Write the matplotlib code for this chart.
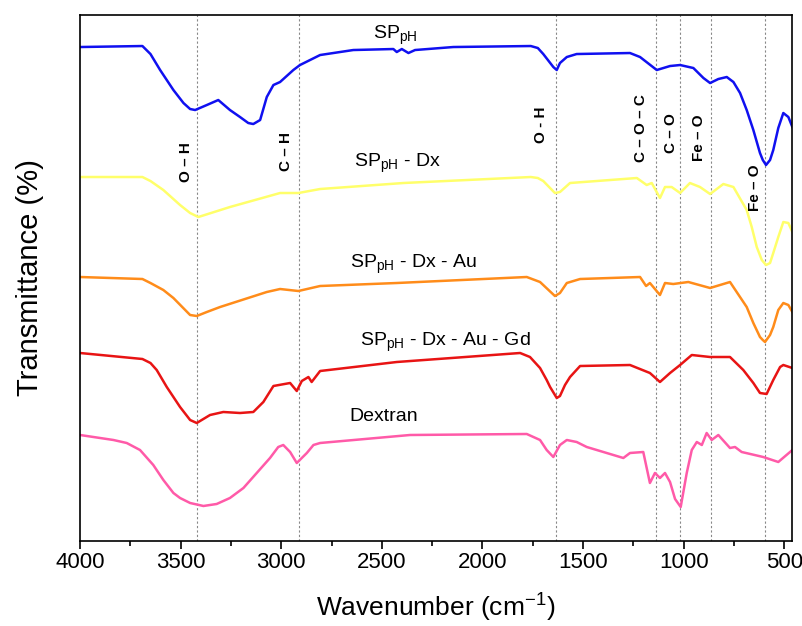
import numpy as np
import matplotlib
matplotlib.use('Agg')
import matplotlib.pyplot as plt
from matplotlib.ticker import MultipleLocator

plt.rcParams['font.family'] = ['Liberation Sans', 'DejaVu Sans']

# FTIR spectra, offset transmittance (arbitrary units)
sp_wn = [4000, 3690, 3650, 3602, 3536, 3486, 3453, 3428, 3370, 3313, 3255, 3205, 3164, 3139,
         3105, 3072, 3039, 3006, 2940, 2907, 2807, 2642, 2443, 2426, 2401, 2368, 2335,
         2145, 1760, 1725, 1698, 1648, 1631, 1615, 1581, 1532, 1267, 1217, 1134, 1068, 1018,
         952, 902, 869, 828, 786, 753, 720, 687, 654, 621, 607, 591, 571, 555, 530,
         505, 480, 460]
sp_t = [494, 495, 487, 471, 451, 438, 432, 431, 436, 441, 431, 424, 418, 417,
        421, 444, 456, 459, 471, 476, 486, 491, 492, 489, 492, 488, 491,
        494, 495, 493, 487, 474, 471, 478, 484, 487, 488, 484, 471, 475, 476,
        473, 463, 458, 462, 464, 459, 448, 431, 411, 388, 381, 376, 381, 391, 413,
        428, 424, 414]

dx_wn = [4000, 3690, 3650, 3586, 3503, 3453, 3412, 3255, 3006, 2915, 2807, 2393, 1760,
         1725, 1698, 1640, 1615, 1565, 1233, 1184, 1159, 1118, 1093, 1060, 1018, 969,
         919, 869, 803, 753, 687, 662, 637, 612, 591, 571, 555, 530, 505, 480, 460]
dx_t = [364, 364, 360, 351, 336, 328, 324, 334, 348, 348, 352, 358, 364,
        363, 360, 348, 349, 358, 363, 356, 358, 343, 354, 354, 348, 358,
        354, 347, 357, 354, 331, 314, 294, 281, 276, 278, 288, 304, 319, 318, 309]

au_wn = [4000, 3690, 3650, 3586, 3536, 3453, 3420, 3370, 3304, 3072, 3006, 2915, 2807,
         2426, 1780, 1714, 1640, 1615, 1581, 1515, 1217, 1187, 1168, 1118, 1093, 1052,
         977, 869, 770, 687, 654, 621, 607, 596, 571, 555, 530, 505, 480, 460]
au_t = [264, 262, 258, 251, 243, 226, 225, 229, 234, 249, 252, 250, 255,
        258, 264, 259, 245, 248, 258, 262, 264, 255, 258, 246, 258, 257,
        259, 253, 259, 234, 218, 204, 201, 199, 206, 214, 231, 238, 236, 229]

gd_wn = [4000, 3690, 3650, 3619, 3569, 3503, 3453, 3420, 3354, 3288, 3205, 3139, 3089,
         3039, 2956, 2923, 2898, 2865, 2849, 2807, 2426, 1813, 1764, 1714, 1681, 1664,
         1631, 1615, 1590, 1565, 1515, 1267, 1168, 1118, 1068, 1018, 960, 869, 770, 704,
         654, 621, 588, 555, 521, 505, 460]
gd_t = [188, 182, 178, 171, 154, 134, 121, 118, 126, 129, 128, 129, 139,
        155, 158, 150, 160, 164, 159, 170, 179, 188, 184, 173, 161, 154,
        143, 145, 156, 164, 175, 176, 168, 159, 168, 176, 186, 184, 184, 171,
        158, 148, 147, 161, 174, 176, 173]

dex_wn = [4000, 3834, 3768, 3702, 3636, 3586, 3536, 3503, 3453, 3387, 3321, 3255, 3188,
          3122, 3056, 3015, 2990, 2956, 2923, 2873, 2840, 2807, 2360, 1780, 1714, 1681,
          1648, 1615, 1581, 1532, 1482, 1300, 1267, 1201, 1168, 1143, 1118, 1093, 1068,
          1043, 1015, 985, 960, 935, 910, 886, 861, 828, 770, 745, 712, 605, 530, 460]
dex_t = [106, 101, 98, 91, 76, 61, 48, 43, 38, 35, 37, 43, 53,
         68, 83, 94, 96, 89, 78, 88, 96, 98, 106, 107, 101, 91,
         84, 96, 101, 99, 94, 83, 88, 89, 58, 68, 63, 68, 59,
         42, 34, 68, 91, 99, 96, 108, 101, 106, 93, 94, 89, 84, 79, 91]

band_wn = [3420, 2912, 1635, 1139, 1018, 866, 597]

fig = plt.figure(figsize=(8.02, 6.26), dpi=100)
ax = fig.add_axes([0.0998, 0.1358, 0.8877, 0.8402])

for w in band_wn:
    ax.axvline(w, color='#888888', linestyle=(0, (2, 2)), linewidth=0.8, zorder=1)

ax.plot(sp_wn, sp_t, color='#1010f0', linewidth=1.8)
ax.plot(dx_wn, dx_t, color='#ffff6a', linewidth=1.8)
ax.plot(au_wn, au_t, color='#ff8c1a', linewidth=1.8)
ax.plot(gd_wn, gd_t, color='#e81414', linewidth=1.8)
ax.plot(dex_wn, dex_t, color='#ff5aa8', linewidth=1.8)

# sample names
ax.text(2435, 506, 'SP$_\\mathregular{pH}$', fontsize=14, ha='center', va='center')
ax.text(2420, 378, 'SP$_\\mathregular{pH}$ - Dx', fontsize=14, ha='center', va='center')
ax.text(2340, 277, 'SP$_\\mathregular{pH}$ - Dx - Au', fontsize=14, ha='center', va='center')
ax.text(2184, 199, 'SP$_\\mathregular{pH}$ - Dx - Au - Gd', fontsize=14, ha='center', va='center')
ax.text(2490, 124, 'Dextran', fontsize=14, ha='center', va='center')

# band assignments
bands = [(3475, 379, 'O – H'), (2975, 390, 'C – H'), (1710, 416, 'O - H'),
         (1210, 413, 'C – O – C'), (1065, 408, 'C – O'), (925, 403, 'Fe – O'),
         (647, 353, 'Fe – O')]
for w, t, s in bands:
    ax.text(w, t, s, rotation=90, fontsize=11, fontweight='bold', ha='center', va='center')

ax.set_xlim(4000, 462)
ax.set_ylim(0, 526)
ax.xaxis.set_major_locator(MultipleLocator(500))
ax.xaxis.set_minor_locator(MultipleLocator(250))
ax.tick_params(axis='x', which='major', direction='out', length=6, width=1.2,
               labelsize=16, pad=2)
ax.tick_params(axis='x', which='minor', direction='out', length=3.5, width=1.2)
ax.set_yticks([])
for sp in ax.spines.values():
    sp.set_linewidth(1.2)

ax.set_xlabel('Wavenumber (cm$^{\\mathregular{-1}}$)', fontsize=19, labelpad=12)
ax.set_ylabel('Transmittance (%)', fontsize=21, labelpad=26)

fig.savefig('out.png', dpi=100)
